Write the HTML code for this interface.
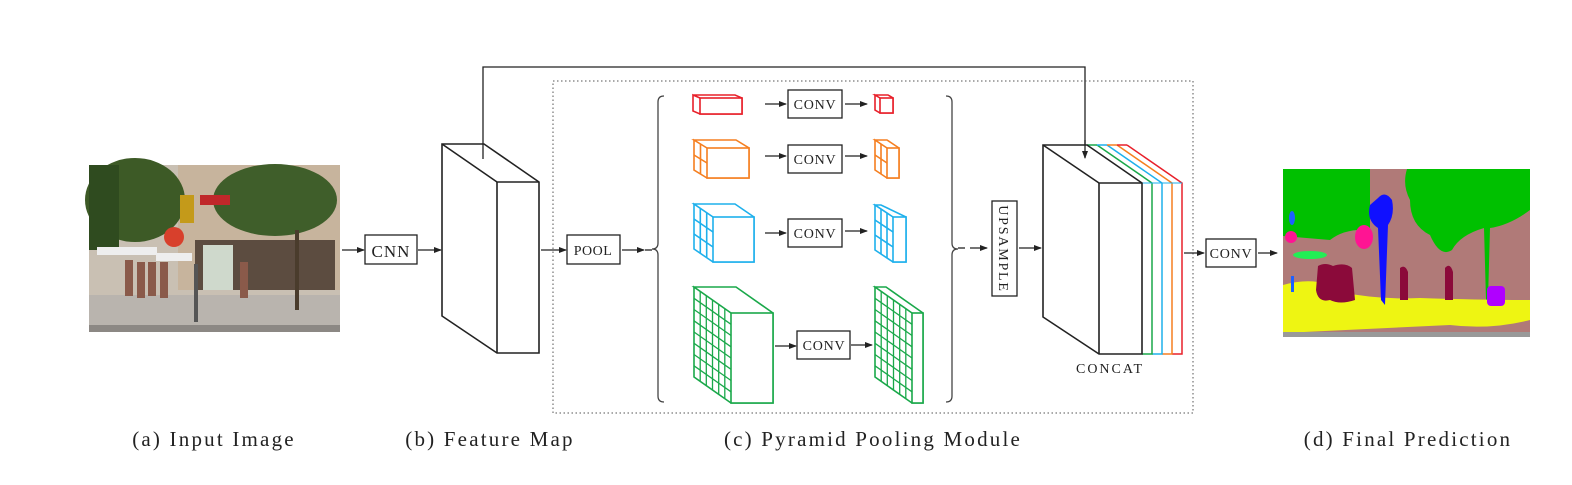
<!DOCTYPE html>
<html><head><meta charset="utf-8"><style>
html,body{margin:0;padding:0;background:#fff;}
svg{display:block;}
text{font-family:"Liberation Serif",serif;fill:#222;}
</style></head><body>
<svg width="1572" height="485" viewBox="0 0 1572 485" xmlns="http://www.w3.org/2000/svg">
<defs>
<marker id="ah" markerWidth="8" markerHeight="8" refX="7" refY="4" orient="auto" markerUnits="userSpaceOnUse">
<path d="M0,1 L8,4 L0,7 Z" fill="#222"/></marker>
</defs>

<!-- photo -->
<g>
<rect x="89" y="165" width="251" height="167" fill="#c9c0b3"/>
<rect x="178" y="165" width="162" height="125" fill="#c7b49d"/>
<rect x="195" y="240" width="140" height="50" fill="#5c4c40"/>
<rect x="203" y="245" width="30" height="45" fill="#cfd9cc"/>
<rect x="89" y="295" width="251" height="37" fill="#b9b4ae"/>
<rect x="89" y="325" width="251" height="7" fill="#8c8884"/>
<ellipse cx="135" cy="200" rx="50" ry="42" fill="#3d5a26"/>
<ellipse cx="275" cy="200" rx="62" ry="36" fill="#3f5e2a"/>
<rect x="89" y="165" width="30" height="85" fill="#2f4b1f"/>
<rect x="295" y="230" width="4" height="80" fill="#4a3c2c"/>
<rect x="97" y="247" width="60" height="8" fill="#eee"/>
<rect x="156" y="253" width="36" height="8" fill="#eee"/>
<rect x="194" y="264" width="4" height="58" fill="#555"/>
<rect x="180" y="195" width="14" height="28" fill="#c49a1a"/>
<circle cx="174" cy="237" r="10" fill="#d8402c"/>
<rect x="200" y="195" width="30" height="10" fill="#c0282a"/>
<g fill="#8a5a4a"><rect x="125" y="260" width="8" height="36"/><rect x="137" y="262" width="8" height="36"/><rect x="148" y="262" width="8" height="34"/><rect x="160" y="262" width="8" height="36"/><rect x="240" y="262" width="8" height="36"/></g>
</g>

<!-- arrows and boxes -->
<g stroke="#222" stroke-width="1.3" fill="none">
<line x1="342" y1="250" x2="364" y2="250" marker-end="url(#ah)"/>
<rect x="365" y="235" width="52" height="29" fill="#fff"/>
<line x1="418" y1="250" x2="441" y2="250" marker-end="url(#ah)"/>
<polygon points="442,144 484,144 539,182 539,353 497,353 442,316" fill="#fff" stroke-width="1.6"/>
<polyline points="442,144 497,182 539,182" stroke-width="1.6"/>
<line x1="497" y1="182" x2="497" y2="353" stroke-width="1.6"/>
<polyline points="483,159 483,67 1085,67 1085,158" marker-end="url(#ah)"/>
<line x1="541" y1="250" x2="566" y2="250" marker-end="url(#ah)"/>
<rect x="567" y="235" width="53" height="29" fill="#fff"/>
<line x1="622" y1="250" x2="644" y2="250" marker-end="url(#ah)"/>
<line x1="645" y1="250" x2="652" y2="250"/>
</g>
<text x="391" y="257" font-size="17" letter-spacing="1" text-anchor="middle">CNN</text>
<text x="593" y="255" font-size="14" letter-spacing="0.5" text-anchor="middle">POOL</text>

<rect x="553" y="81" width="640" height="332" fill="none" stroke="#555" stroke-width="1" stroke-dasharray="1.5,2.5"/>

<g stroke="#444" stroke-width="1.3" fill="none">
<path d="M664,96 Q658,96 658,102 L658,243 Q658,249 652,249 Q658,249 658,255 L658,396 Q658,402 664,402"/>
<path d="M946,96 Q952,96 952,102 L952,243 Q952,249 958,249 Q952,249 952,255 L952,396 Q952,402 946,402"/>
</g>

<g stroke-width="1.6" fill="#fff">
<g stroke="#e8202a">
<polygon points="700,98 693,95 735,95 742,98 742,114 700,114 693,111 693,95"/>
<rect x="700" y="98" width="42" height="16"/>
<polygon points="880,98 875,95 888,95 893,98 893,113 880,113 875,110 875,95"/>
<rect x="880" y="98" width="13" height="15"/>
</g>
<g stroke="#f57f20">
<polygon points="707,148 694,140 736,140 749,148 749,178 707,178 694,170 694,140"/>
<rect x="707" y="148" width="42" height="30"/>
<line x1="700.5" y1="144" x2="700.5" y2="174"/><line x1="694" y1="155" x2="707" y2="163"/>
<polygon points="887,148 875,140 887,140 899,148 899,178 887,178 875,170 875,140"/>
<rect x="887" y="148" width="12" height="30"/>
<line x1="881" y1="144" x2="881" y2="174"/><line x1="875" y1="155" x2="887" y2="163"/>
</g>
<g stroke="#1eb0ec">
<polygon points="713,217 694,204 735,204 754,217 754,262 713,262 694,249 694,204"/>
<rect x="713" y="217" width="41" height="45"/>
<line x1="700.3" y1="208.3" x2="700.3" y2="253.3"/><line x1="706.7" y1="212.7" x2="706.7" y2="257.7"/>
<line x1="694" y1="219" x2="713" y2="232"/><line x1="694" y1="234" x2="713" y2="247"/>
<polygon points="893,217 875,205 881,205 906,217 906,262 893,262 875,250 875,205"/>
<rect x="893" y="217" width="13" height="45"/>
<line x1="881" y1="209" x2="881" y2="254"/><line x1="887" y1="213" x2="887" y2="258"/>
<line x1="875" y1="220" x2="893" y2="232"/><line x1="875" y1="235" x2="893" y2="247"/>
</g>
<g stroke="#1aa84a">
<polygon points="731,313 694,287 736,287 773,313 773,403 731,403 694,377 694,287"/>
<rect x="731" y="313" width="42" height="90"/>
<g stroke-width="1.3">
<line x1="700.2" y1="291.3" x2="700.2" y2="381.3"/><line x1="706.3" y1="295.7" x2="706.3" y2="385.7"/><line x1="712.5" y1="300" x2="712.5" y2="390"/><line x1="718.7" y1="304.3" x2="718.7" y2="394.3"/><line x1="724.8" y1="308.7" x2="724.8" y2="398.7"/>
<line x1="694" y1="298.3" x2="731" y2="324.3"/><line x1="694" y1="309.5" x2="731" y2="335.5"/><line x1="694" y1="320.8" x2="731" y2="346.8"/><line x1="694" y1="332" x2="731" y2="358"/><line x1="694" y1="343.3" x2="731" y2="369.3"/><line x1="694" y1="354.5" x2="731" y2="380.5"/><line x1="694" y1="365.8" x2="731" y2="391.8"/>
</g>
<polygon points="912,313 875,287 886,287 923,313 923,403 912,403 875,377 875,287"/>
<rect x="912" y="313" width="11" height="90"/>
<g stroke-width="1.3">
<line x1="881.2" y1="291.3" x2="881.2" y2="381.3"/><line x1="887.3" y1="295.7" x2="887.3" y2="385.7"/><line x1="893.5" y1="300" x2="893.5" y2="390"/><line x1="899.7" y1="304.3" x2="899.7" y2="394.3"/><line x1="905.8" y1="308.7" x2="905.8" y2="398.7"/>
<line x1="875" y1="298.3" x2="912" y2="324.3"/><line x1="875" y1="309.5" x2="912" y2="335.5"/><line x1="875" y1="320.8" x2="912" y2="346.8"/><line x1="875" y1="332" x2="912" y2="358"/><line x1="875" y1="343.3" x2="912" y2="369.3"/><line x1="875" y1="354.5" x2="912" y2="380.5"/><line x1="875" y1="365.8" x2="912" y2="391.8"/>
</g>
</g>
</g>

<g stroke="#222" stroke-width="1.3" fill="none">
<line x1="765" y1="104" x2="786" y2="104" marker-end="url(#ah)"/>
<rect x="788" y="90" width="54" height="28" fill="#fff"/>
<line x1="845" y1="104" x2="867" y2="104" marker-end="url(#ah)"/>
<line x1="765" y1="156" x2="786" y2="156" marker-end="url(#ah)"/>
<rect x="788" y="145" width="54" height="28" fill="#fff"/>
<line x1="845" y1="156" x2="867" y2="156" marker-end="url(#ah)"/>
<line x1="765" y1="233" x2="786" y2="233" marker-end="url(#ah)"/>
<rect x="788" y="219" width="54" height="28" fill="#fff"/>
<line x1="845" y1="231" x2="867" y2="231" marker-end="url(#ah)"/>
<line x1="775" y1="346" x2="796" y2="346" marker-end="url(#ah)"/>
<rect x="797" y="331" width="53" height="28" fill="#fff"/>
<line x1="851" y1="345" x2="872" y2="345" marker-end="url(#ah)"/>
</g>
<g font-size="14" text-anchor="middle" letter-spacing="0.8">
<text x="815" y="109">CONV</text>
<text x="815" y="164">CONV</text>
<text x="815" y="238">CONV</text>
<text x="824" y="350">CONV</text>
</g>

<g stroke="#222" stroke-width="1.3" fill="none">
<line x1="958" y1="248" x2="965" y2="248"/>
<line x1="970" y1="248" x2="987" y2="248" marker-end="url(#ah)"/>
<rect x="992" y="201" width="25" height="95" fill="#fff"/>
<line x1="1019" y1="248" x2="1041" y2="248" marker-end="url(#ah)"/>
</g>
<text x="0" y="0" font-size="14" letter-spacing="1.8" text-anchor="middle" transform="translate(999,249) rotate(90)">UPSAMPLE</text>

<g stroke-width="1.5" fill="none">
<polyline points="1127,145 1182,183 1182,354 1172,354" stroke="#e8202a"/>
<polyline points="1117,145 1172,183 1172,354 1162,354" stroke="#f57f20"/>
<line x1="1117" y1="145" x2="1127" y2="145" stroke="#e8202a"/>
<polyline points="1107,145 1162,183 1162,354 1152,354" stroke="#1eb0ec"/>
<line x1="1107" y1="145" x2="1117" y2="145" stroke="#f57f20"/>
<polyline points="1097,145 1152,183 1152,354 1142,354" stroke="#1aa84a"/>
<line x1="1097" y1="145" x2="1107" y2="145" stroke="#1eb0ec"/>
<line x1="1087" y1="145" x2="1097" y2="145" stroke="#1aa84a"/>
<line x1="1142" y1="183" x2="1182" y2="183" stroke="#1eb0ec" stroke-width="1"/>
<polygon points="1043,145 1087,145 1142,183 1142,354 1099,354 1043,317" stroke="#222" stroke-width="1.6" fill="#fff"/>
<polyline points="1043,145 1099,183 1142,183" stroke="#222" stroke-width="1.6"/>
<line x1="1099" y1="183" x2="1099" y2="354" stroke="#222" stroke-width="1.6"/>
</g>
<g stroke="#222" stroke-width="1.3" fill="none">
<line x1="1085" y1="140" x2="1085" y2="158" marker-end="url(#ah)"/>
</g>
<text x="1110" y="373" font-size="14" letter-spacing="2" text-anchor="middle">CONCAT</text>

<g stroke="#222" stroke-width="1.3" fill="none">
<line x1="1184" y1="253" x2="1204" y2="253" marker-end="url(#ah)"/>
<rect x="1206" y="239" width="50" height="28" fill="#fff"/>
<line x1="1258" y1="253" x2="1277" y2="253" marker-end="url(#ah)"/>
</g>
<text x="1231" y="258" font-size="14" letter-spacing="0.8" text-anchor="middle">CONV</text>

<g>
<rect x="1283" y="169" width="247" height="168" fill="#b07a78"/>
<path d="M1283,169 L1370,169 L1370,230 Q1345,228 1330,240 L1283,236 Z" fill="#00c000"/>
<path d="M1407,169 L1530,169 L1530,210 Q1510,225 1490,228 L1488,300 L1486,300 L1484,228 Q1460,235 1452,250 Q1440,258 1430,235 Q1410,225 1410,200 Q1402,185 1407,169 Z" fill="#00c000"/>
<path d="M1283,285 Q1320,275 1340,292 Q1380,300 1420,298 Q1480,300 1530,300 L1530,320 Q1490,330 1450,325 L1283,333 Z" fill="#eef512"/>
<rect x="1283" y="332" width="247" height="5" fill="#999"/>
<path d="M1318,266 Q1325,262 1333,266 Q1345,262 1352,268 L1355,300 Q1340,305 1330,300 Q1318,303 1316,290 Z" fill="#8b0a3a"/>
<path d="M1400,268 Q1405,264 1408,272 L1408,300 L1400,300 Z" fill="#8b0a3a"/>
<path d="M1445,268 Q1450,262 1453,272 L1453,300 L1445,300 Z" fill="#8b0a3a"/>
<rect x="1487" y="286" width="18" height="20" rx="4" fill="#b000ff"/>
<path d="M1378,198 Q1385,190 1392,200 Q1395,215 1388,225 L1385,305 L1381,300 L1378,228 Q1366,220 1370,205 Z" fill="#1010ff"/>
<ellipse cx="1364" cy="237" rx="9" ry="12" fill="#ff1493"/>
<circle cx="1291" cy="237" r="6" fill="#ff1493"/>
<ellipse cx="1292" cy="218" rx="3" ry="7" fill="#1e60ff"/>
<ellipse cx="1310" cy="255" rx="17" ry="4" fill="#22ee55"/>
<rect x="1291" y="276" width="3" height="16" fill="#1e60ff"/>
</g>

<g font-size="21" text-anchor="middle" letter-spacing="2.2">
<text x="214" y="446">(a) Input Image</text>
<text x="490" y="446">(b) Feature Map</text>
<text x="873" y="446">(c) Pyramid Pooling Module</text>
<text x="1408" y="446">(d) Final Prediction</text>
</g>
</svg>
</body></html>
